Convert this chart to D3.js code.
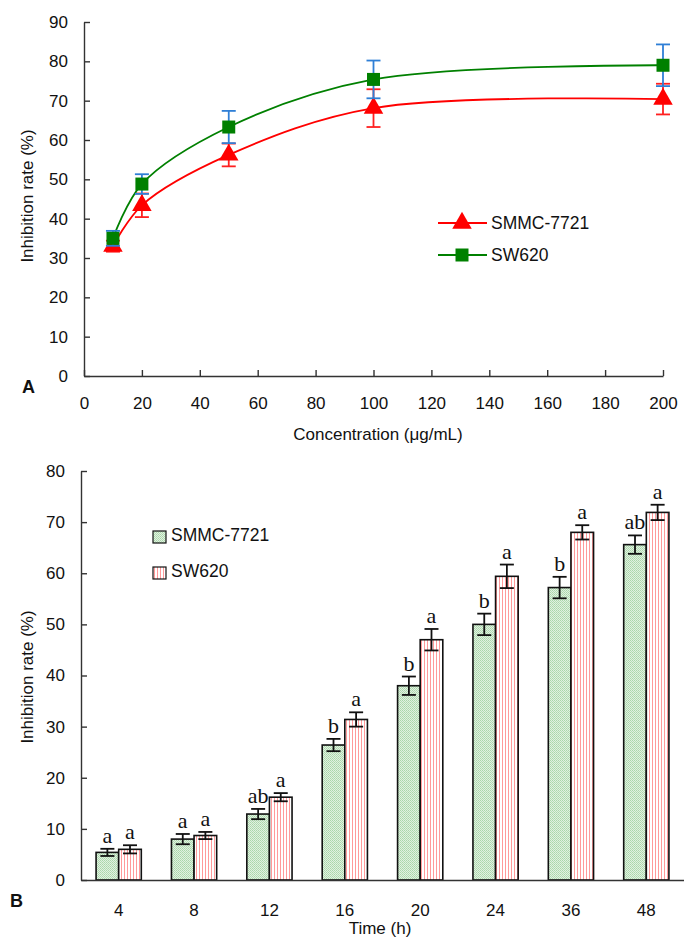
<!DOCTYPE html>
<html>
<head>
<meta charset="utf-8">
<script src="https://cdn.jsdelivr.net/npm/d3@7"></script>
<style>
  body { margin: 0; background: #fff; }
  svg { display: block; font-family: Arial, "Liberation Sans", sans-serif; }
  .axis path, .axis line { stroke: #333; stroke-width: 1.4; }
  .axis text { font-size: 17px; fill: #111; font-family: Arial, "Liberation Sans", sans-serif; }
</style>
</head>
<body>
<svg id="chart" width="684" height="938"></svg>
<script>
// Panel A: inhibition vs concentration
var concentrations = [10, 20, 50, 100, 200];
var smmcDose = [33.0, 43.4, 56.2, 68.1, 70.4];
var smmcDoseErr = [1.4, 3.0, 2.9, 4.8, 3.9];
var swDose = [35.0, 48.8, 63.3, 75.4, 79.0];
var swDoseErr = [1.9, 2.5, 4.1, 4.8, 5.3];
var xTicksA = [0, 20, 40, 60, 80, 100, 120, 140, 160, 180, 200];
var yTicksA = [0, 10, 20, 30, 40, 50, 60, 70, 80, 90];

// Panel B: inhibition vs time
var times = ["4", "8", "12", "16", "20", "24", "36", "48"];
var smmcTime = [5.4, 8.0, 12.9, 26.4, 38.0, 50.0, 57.2, 65.6];
var smmcTimeErr = [0.7, 1.0, 1.0, 1.2, 1.8, 2.1, 2.1, 1.8];
var smmcLetters = ["a", "a", "ab", "b", "b", "b", "b", "ab"];
var swTime = [6.0, 8.7, 16.2, 31.4, 47.0, 59.4, 68.0, 71.9];
var swTimeErr = [0.8, 0.7, 0.8, 1.4, 2.1, 2.3, 1.4, 1.5];
var swLetters = ["a", "a", "a", "a", "a", "a", "a", "a"];
var yTicksB = [0, 10, 20, 30, 40, 50, 60, 70, 80];

var svg = d3.select("#chart");
var defs = svg.append("defs");

// green dotted fill
var pg = defs.append("pattern").attr("id", "greenFill")
    .attr("width", 2).attr("height", 2).attr("patternUnits", "userSpaceOnUse");
pg.append("rect").attr("width", 2).attr("height", 2).attr("fill", "#e0f1e0");
pg.append("rect").attr("width", 1).attr("height", 1).attr("fill", "#aad6aa");
pg.append("rect").attr("x", 1).attr("y", 1).attr("width", 1).attr("height", 1).attr("fill", "#b6dcb6");

// red vertical stripes
var pr = defs.append("pattern").attr("id", "redFill")
    .attr("width", 3).attr("height", 3).attr("patternUnits", "userSpaceOnUse");
pr.append("rect").attr("width", 3).attr("height", 3).attr("fill", "#fff");
pr.append("rect").attr("x", 1).attr("width", 1).attr("height", 3).attr("fill", "#ff9a9a");

// ---------- Panel A ----------
var xA = d3.scaleLinear().domain([0, 200]).range([84, 663]);
var yA = d3.scaleLinear().domain([0, 90]).range([376, 22]);

var gA = svg.append("g");

gA.append("g")
    .attr("class", "axis")
    .attr("transform", "translate(0,376)")
    .call(d3.axisBottom(xA).tickValues(xTicksA).tickSizeInner(-6).tickSizeOuter(0).tickPadding(21));

gA.append("g")
    .attr("class", "axis")
    .attr("transform", "translate(84,0)")
    .call(d3.axisLeft(yA).tickValues(yTicksA).tickSizeInner(-6).tickSizeOuter(0).tickPadding(16));

var seriesA = [
    { name: "SMMC-7721", vals: smmcDose, err: smmcDoseErr, color: "#ff0000", errColor: "#ff2020", shape: "tri" },
    { name: "SW620", vals: swDose, err: swDoseErr, color: "#008000", errColor: "#2f7fd6", shape: "sq" }
];

function marker(shape) {
    return shape == "tri"
        ? d3.symbol().type(d3.symbolTriangle).size(165)
        : d3.symbol().type(d3.symbolSquare).size(169);
}

var line = d3.line()
    .x(function(d) { return xA(d.x); })
    .y(function(d) { return yA(d.y); })
    .curve(d3.curveCatmullRom.alpha(0.5));

seriesA.forEach(function(s) {
    var pts = concentrations.map(function(c, i) { return { x: c, y: s.vals[i], e: s.err[i] }; });

    gA.append("path")
        .datum(pts)
        .attr("d", line)
        .attr("fill", "none")
        .attr("stroke", s.color)
        .attr("stroke-width", 1.8);

    var eb = gA.append("g").attr("stroke", s.errColor).attr("stroke-width", 1.8);
    pts.forEach(function(p) {
        var cx = xA(p.x), t = yA(p.y + p.e), b = yA(p.y - p.e);
        eb.append("line").attr("x1", cx).attr("x2", cx).attr("y1", t).attr("y2", b);
        eb.append("line").attr("x1", cx - 7).attr("x2", cx + 7).attr("y1", t).attr("y2", t);
        eb.append("line").attr("x1", cx - 7).attr("x2", cx + 7).attr("y1", b).attr("y2", b);
    });

    gA.selectAll(null)
        .data(pts)
        .enter().append("path")
        .attr("d", marker(s.shape))
        .attr("transform", function(d) { return "translate(" + xA(d.x) + "," + yA(d.y) + ")"; })
        .attr("fill", s.color);
});

// legend A
var legA = gA.append("g");
seriesA.forEach(function(s, i) {
    var ly = 223 + i * 32;
    legA.append("line").attr("x1", 438).attr("x2", 487).attr("y1", ly).attr("y2", ly)
        .attr("stroke", s.color).attr("stroke-width", 1.8);
    legA.append("path").attr("d", marker(s.shape)).attr("transform", "translate(462," + ly + ")").attr("fill", s.color);
    legA.append("text").attr("x", 491).attr("y", ly + 6).attr("font-size", 17.5).attr("fill", "#111").text(s.name);
});

gA.append("text")
    .attr("transform", "translate(33,196) rotate(-90)")
    .attr("text-anchor", "middle").attr("font-size", 17).attr("fill", "#111")
    .text("Inhibition rate (%)");

gA.append("text")
    .attr("x", 378).attr("y", 440)
    .attr("text-anchor", "middle").attr("font-size", 17).attr("fill", "#111")
    .text("Concentration (μg/mL)");

gA.append("text")
    .attr("x", 22).attr("y", 393)
    .attr("font-size", 18).attr("font-weight", "bold").attr("fill", "#111")
    .text("A");

// ---------- Panel B ----------
var xB = d3.scaleBand().domain(times).range([81, 684]).paddingInner(0.4).paddingOuter(0.2);
var xSub = d3.scaleBand().domain(["SMMC-7721", "SW620"]).range([0, xB.bandwidth()]);
var yB = d3.scaleLinear().domain([0, 80]).range([880, 471]);

var gB = svg.append("g");

var seriesB = [
    { name: "SMMC-7721", vals: smmcTime, err: smmcTimeErr, letters: smmcLetters, fill: "url(#greenFill)" },
    { name: "SW620", vals: swTime, err: swTimeErr, letters: swLetters, fill: "url(#redFill)" }
];

seriesB.forEach(function(s) {
    var data = times.map(function(t, i) { return { t: t, v: s.vals[i], e: s.err[i], l: s.letters[i] }; });
    var bx = function(d) { return xB(d.t) + xSub(s.name); };
    var w = xSub.bandwidth();

    gB.selectAll(null)
        .data(data)
        .enter().append("rect")
        .attr("x", bx)
        .attr("y", function(d) { return yB(d.v); })
        .attr("width", w)
        .attr("height", function(d) { return yB(0) - yB(d.v); })
        .attr("fill", s.fill)
        .attr("stroke", "#111")
        .attr("stroke-width", 1.6);

    data.forEach(function(d) {
        var cx = bx(d) + w / 2, t = yB(d.v + d.e), b = yB(d.v - d.e);
        var eg = gB.append("g").attr("stroke", "#111").attr("stroke-width", 1.8);
        eg.append("line").attr("x1", cx).attr("x2", cx).attr("y1", t).attr("y2", b);
        eg.append("line").attr("x1", cx - 7).attr("x2", cx + 7).attr("y1", t).attr("y2", t);
        eg.append("line").attr("x1", cx - 7).attr("x2", cx + 7).attr("y1", b).attr("y2", b);
        gB.append("text")
            .attr("x", cx).attr("y", t - 6)
            .attr("text-anchor", "middle")
            .attr("font-family", "'Times New Roman', 'Liberation Serif', serif")
            .attr("font-size", 22).attr("fill", "#111")
            .text(d.l);
    });
});

gB.append("g")
    .attr("class", "axis")
    .attr("transform", "translate(0,880)")
    .call(d3.axisBottom(xB).tickSize(0).tickPadding(24));

gB.append("g")
    .attr("class", "axis")
    .attr("transform", "translate(81,0)")
    .call(d3.axisLeft(yB).tickValues(yTicksB).tickSizeInner(-6).tickSizeOuter(0).tickPadding(16));

// legend B
seriesB.forEach(function(s, i) {
    var ly = 531 + i * 36;
    gB.append("rect").attr("x", 153).attr("y", ly).attr("width", 13).attr("height", 12)
        .attr("fill", s.fill).attr("stroke", "#111").attr("stroke-width", 1.2);
    gB.append("text").attr("x", 171).attr("y", ly + 10).attr("font-size", 17.5).attr("fill", "#111").text(s.name);
});

gB.append("text")
    .attr("transform", "translate(33,677) rotate(-90)")
    .attr("text-anchor", "middle").attr("font-size", 17).attr("fill", "#111")
    .text("Inhibition rate (%)");

gB.append("text")
    .attr("x", 380).attr("y", 934)
    .attr("text-anchor", "middle").attr("font-size", 17).attr("fill", "#111")
    .text("Time (h)");

gB.append("text")
    .attr("x", 10).attr("y", 907)
    .attr("font-size", 18).attr("font-weight", "bold").attr("fill", "#111")
    .text("B");
</script>
</body>
</html>
